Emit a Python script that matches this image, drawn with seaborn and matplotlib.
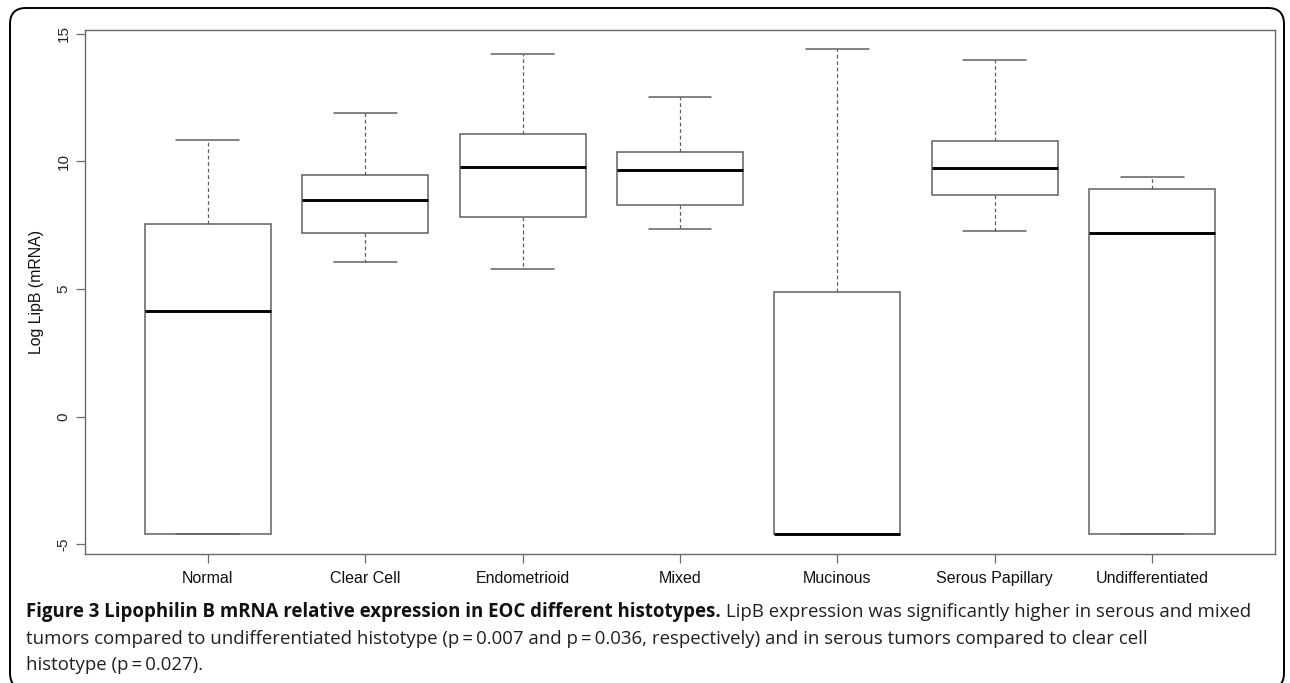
import numpy as np
import pandas as pd
import matplotlib
matplotlib.use('Agg')
import matplotlib.pyplot as plt
from matplotlib.patches import FancyBboxPatch
from matplotlib.transforms import IdentityTransform
import seaborn as sns

# Five-number summaries.
groups = ['Normal', 'Clear Cell', 'Endometrioid', 'Mixed', 'Mucinous', 'Serous Papillary', 'Undifferentiated']
mins = [-4.60, 6.07, 5.80, 7.34, -4.60, 7.27, -4.60]
q1s = [-4.60, 7.21, 7.82, 8.30, -4.60, 8.68, -4.60]
medians = [4.16, 8.47, 9.79, 9.65, -4.60, 9.75, 7.19]
q3s = [7.53, 9.48, 11.06, 10.37, 4.88, 10.81, 8.92]
maxs = [10.85, 11.90, 14.20, 12.54, 14.39, 13.97, 9.40]
yticks = [-5, 0, 5, 10, 15]
ylabel = 'Log LipB (mRNA)'

caption_bold = 'Figure 3 Lipophilin B mRNA relative expression in EOC different histotypes.'
caption_rest = [' LipB expression was significantly higher in serous and mixed',
                'tumors compared to undifferentiated histotype (p\u2009=\u20090.007 and p\u2009=\u20090.036, respectively) and in serous tumors compared to clear cell',
                'histotype (p\u2009=\u20090.027).']

# long table: 5 values per group give exactly these quartiles
rows = []
for g, a, b, c, d, e in zip(groups, mins, q1s, medians, q3s, maxs):
    for v in (a, b, c, d, e):
        rows.append({'histotype': g, 'lipb': v})
df = pd.DataFrame(rows)

sns.set_style('white')
plt.rcParams['font.family'] = ['Liberation Sans', 'DejaVu Sans']

W, H = 1290, 683
fig = plt.figure(figsize=(W / 100, H / 100), dpi=100)
ax = fig.add_axes([85 / W, 1 - 554 / H, (1275 - 85) / W, (554 - 30) / H])

box_col = '#606060'
sns.boxplot(data=df, x='histotype', y='lipb', order=groups, ax=ax,
            width=0.8, color='white', linecolor=box_col, linewidth=1.1,
            whis=(0, 100), showfliers=False,
            medianprops=dict(color='black', linewidth=2.1),
            whiskerprops=dict(linestyle=(0, (3, 2.2)), linewidth=0.9),
            capprops=dict(linewidth=1.1))

ax.set_xlim(-0.78, 6.78)
ax.set_ylim(-5.38, 15.15)
ax.set_yticks(yticks)
ax.set_yticklabels([str(t) for t in yticks], rotation=90, va='center', fontsize=11)
ax.set_xlabel('')
ax.set_ylabel(ylabel, fontsize=11.4, labelpad=9, color='#111111')
ax.tick_params(axis='both', length=6.5, width=0.9, color='#6a6a6a', left=True, bottom=True)
ax.tick_params(axis='y', pad=4)
ax.tick_params(axis='x', pad=6, labelsize=11.5, labelcolor='#111111')
for s in ax.spines.values():
    s.set_visible(True)
    s.set_color('#6a6a6a')
    s.set_linewidth(1.0)

# outer rounded frame
frame = FancyBboxPatch((10, -6), 1274, H - 8 + 6, boxstyle='round,pad=0,rounding_size=16',
                       transform=IdentityTransform(), fill=False, edgecolor='black', linewidth=1.4)
fig.patches.append(frame)

# caption
cap_font = ['Open Sans', 'DejaVu Sans']
cap_size = 13.4
x0 = 26 / W
t1 = fig.text(x0, 1 - 617 / H, caption_bold, fontsize=cap_size, fontweight='bold',
              family=cap_font, va='baseline', color='#111111')
fig.canvas.draw()
bb = t1.get_window_extent(renderer=fig.canvas.get_renderer())
fig.text(bb.x1 / W, 1 - 617 / H, caption_rest[0], fontsize=cap_size, family=cap_font,
         va='baseline', color='#231f20')
fig.text(x0, 1 - 643.5 / H, caption_rest[1], fontsize=cap_size, family=cap_font,
         va='baseline', color='#231f20')
fig.text(x0, 1 - 670 / H, caption_rest[2], fontsize=cap_size, family=cap_font,
         va='baseline', color='#231f20')

fig.savefig('out.png', dpi=100)
